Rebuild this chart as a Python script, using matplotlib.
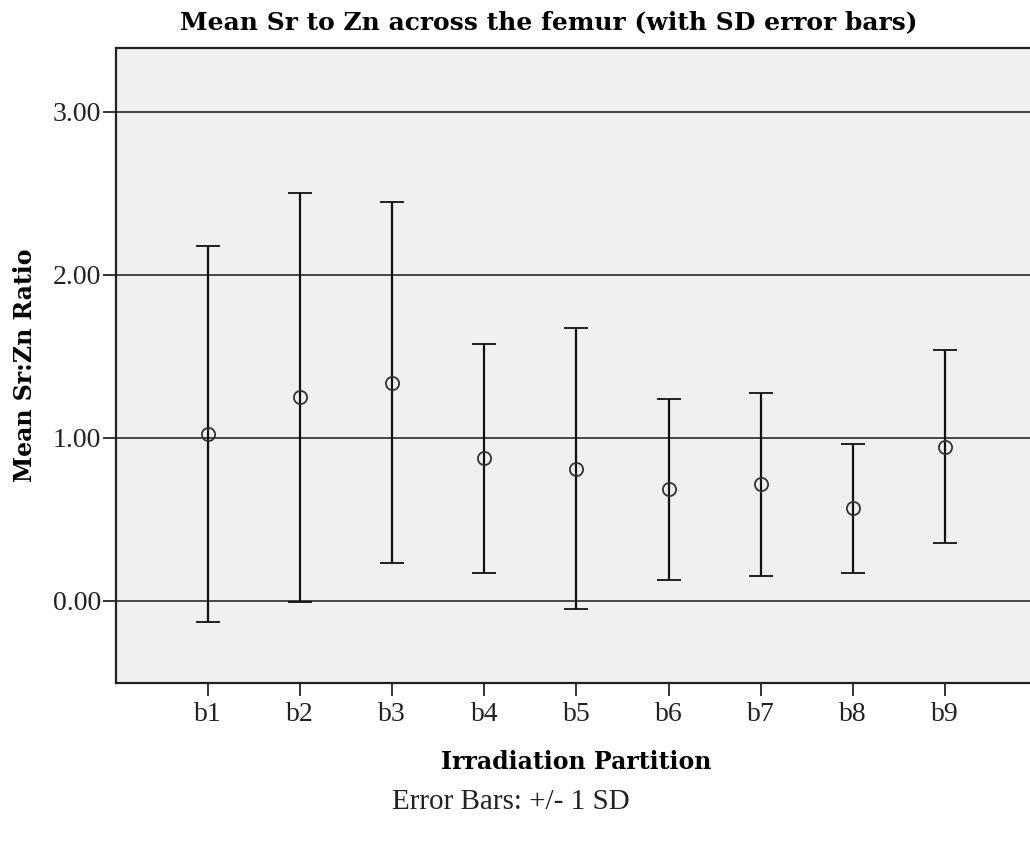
import numpy as np
import matplotlib
matplotlib.use("Agg")
import matplotlib.pyplot as plt

# data
partitions = ["b1", "b2", "b3", "b4", "b5", "b6", "b7", "b8", "b9"]
means = [1.024, 1.249, 1.339, 0.875, 0.812, 0.684, 0.715, 0.568, 0.945]
sds = [1.152, 1.255, 1.109, 0.702, 0.862, 0.556, 0.559, 0.395, 0.591]
ytick_vals = [0, 1, 2, 3]

plt.rcParams['font.family'] = ['Liberation Serif', 'DejaVu Serif']

fig = plt.figure(figsize=(10.3, 8.44), dpi=100)
W, H = 1030, 844
# plot area runs off the right edge like the original
ax = fig.add_axes([116 / W, (H - 683) / H, (1037 - 116) / W, (683 - 48) / H])
ax.set_facecolor("#f0f0f0")

x = np.arange(1, len(partitions) + 1)
ax.errorbar(x, means, yerr=sds, fmt="o", ms=9.5, mfc="none", mec="#333333",
            mew=1.3, ecolor="#111111", elinewidth=1.6, capsize=8.3,
            capthick=1.9, zorder=3)

for v in ytick_vals:
    ax.axhline(v, color="#3a3a3a", lw=1.3, zorder=1)

ax.set_xlim(0, 10)
ax.set_ylim(-0.503, 3.39)
ax.set_xticks(x)
ax.set_xticklabels(partitions)
ax.set_yticks(ytick_vals)
ax.set_yticklabels([f"{v:.2f}" for v in ytick_vals])
ax.tick_params(axis="both", labelsize=20, colors="#222222", width=1.3,
               length=9.5, direction="out")
ax.tick_params(axis="y", pad=1)
ax.tick_params(axis="x", pad=4)

for s in ["left", "top", "bottom"]:
    ax.spines[s].set_color("#222222")
    ax.spines[s].set_linewidth(1.6)
ax.spines["right"].set_visible(False)

bold_font = dict(family="DejaVu Serif", fontweight="bold")
fig.text(549 / W, 1 - 22 / H, "Mean Sr to Zn across the femur (with SD error bars)",
         ha="center", va="center", fontsize=18, **bold_font)
fig.text(576 / W, 1 - 762 / H, "Irradiation Partition", ha="center", va="center",
         fontsize=17, **bold_font)
fig.text(25 / W, 1 - 365 / H, "Mean Sr:Zn Ratio", ha="center", va="center",
         rotation=90, fontsize=17, **bold_font)
fig.text(511 / W, 1 - 802 / H, "Error Bars: +/- 1 SD", ha="center", va="center",
         fontsize=21, color="#222222")

fig.savefig("out.png", dpi=100)
